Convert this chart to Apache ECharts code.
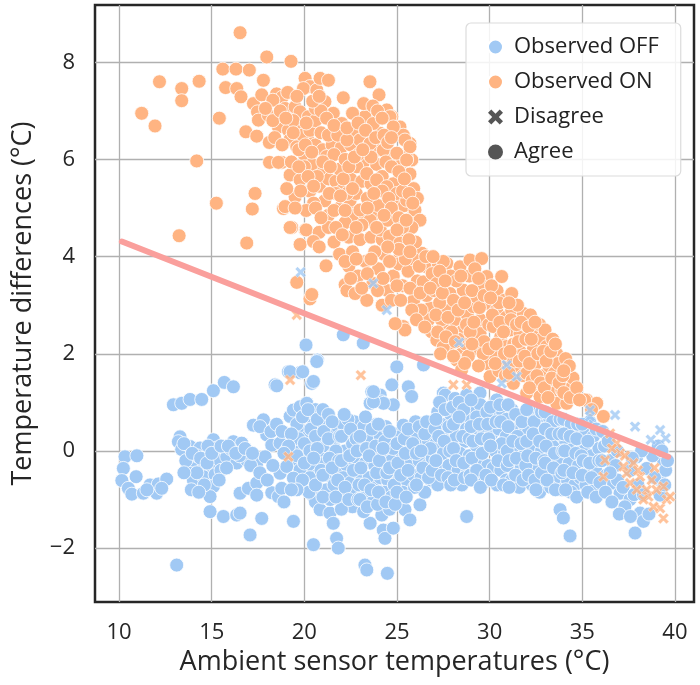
<!DOCTYPE html>
<html>
<head>
<meta charset="utf-8">
<script src="https://cdn.jsdelivr.net/npm/echarts@6/dist/echarts.min.js"></script>
<style>
html,body{margin:0;padding:0;background:#fff;}
#chart{width:700px;height:685px;}
</style>
</head>
<body>
<div id="chart"></div>
<script>
// ---------- data ----------
const xTicks = [10, 15, 20, 25, 30, 35, 40];
const yTicks = [-2, 0, 2, 4, 6, 8];

// Observed OFF, model agrees (blue circles)
const offAgree = [
[10.32,-0.12],[10.96,-0.1],[10.23,-0.36],[10.15,-0.61],[10.92,-0.53],[10.5,-0.77],[10.69,-0.89],[11.31,-0.87],[11.67,-0.7],[12.03,-0.87],[12.12,-0.68],[12.57,-0.58],[12.3,-0.77],[11.5,-0.8],
[12.93,0.95],[13.38,0.98],[13.83,1.06],[14.46,1.06],[15.09,1.24],[15.68,1.41],[16.17,1.32],
[13.29,0.29],[13.2,0.19],[13.38,0.03],[13.83,0.09],[14.37,0.06],[15.09,0.23],[15.27,0.06],[14.64,-0.15],[15.27,-0.19],[13.83,-0.39],[14.37,-0.32],[14.91,-0.39],[14.01,-0.6],[14.55,-0.53],[15.18,-0.49],[15.09,-0.73],[14.91,-0.94],[14.01,-0.19],[14.2,-0.1],[13.6,-0.2],[14.8,0.1],[15.5,-0.4],
[14.91,-1.25],[15.63,-1.35],[16.35,-1.32],[16.53,-1.28],[17.07,-1.73],[17.7,-1.39],[19.41,-1.45],[13.11,-2.35],
[16.17,0.19],[16.17,0.01],[16.62,0.16],[15.81,-0.12],[16.35,-0.25],[16.89,-0.19],[17.43,-0.25],[16.5,-0.1],[17.1,-0.3],[16.0,0.05],
[16.53,-0.87],[16.98,-0.77],[17.43,-0.66],[17.43,-0.91],[18.24,-0.86],[18.6,-0.94],[18.78,-0.77],
[17.25,0.53],[17.79,0.64],[17.97,0.33],[18.24,0.12],[17.88,-0.12],[17.6,0.5],
[18.42,1.36],[19.14,1.63],[19.77,1.61],[20.4,1.39],[18.51,1.34],
[19.23,0.71],[19.41,0.84],[19.77,0.91],[20.13,0.98],[19.95,0.4],
[18.69,0.16],[19.05,0.02],[19.41,-0.19],[18.69,-0.46],[19.05,-0.32],[19.77,-0.39],[20.13,-0.12],[19.77,0.02],
[19.41,-0.56],[20.13,-0.73],[20.49,-0.94],[20.49,-1.93],[20.09,2.18],[20.7,1.87],[19.23,1.63],[19.91,1.63],[20.67,1.84],[20.49,1.43],
[20.3,0.7],[20.6,0.85],[20.2,0.3],[20.5,0.1],[20.8,0.45],[20.4,-0.3],[20.7,-0.5],[20.9,-0.15],[20.3,-0.55],[20.9,-0.8],[20.6,-1.05],[20.85,-1.21],[20.5,0.55],[20.95,0.2],
[21.1,0.65],[21.4,0.4],[21.2,0.1],[21.6,0.2],[21.1,-0.25],[21.5,-0.1],[21.3,-0.5],[21.7,-0.4],[21.2,-0.8],[21.6,-0.7],[21.38,-1.28],[21.56,-1.49],[21.9,-1.0],[21.74,-1.8],[21.83,-2.0],[21.8,0.5],[21.4,-1.0],
[22.1,0.55],[22.4,0.3],[22.2,0.0],[22.6,0.15],[22.3,-0.3],[22.7,-0.2],[22.1,-0.55],[22.5,-0.65],[22.9,-0.45],[22.3,-0.9],[22.8,-0.85],[22.6,-1.15],[22.9,0.45],[22.0,-1.2],[22.7,0.6],
[23.2,0.5],[23.5,0.3],[23.1,0.05],[23.6,0.0],[23.3,-0.25],[23.8,-0.3],[23.1,-0.6],[23.5,-0.55],[23.9,-0.75],[23.3,-0.9],[23.7,-1.05],[23.55,-1.49],[23.27,-2.35],[23.37,-2.45],[23.9,0.55],[23.2,-1.25],
[24.1,0.3],[24.4,0.5],[24.2,0.0],[24.6,0.15],[24.3,-0.3],[24.7,-0.2],[24.1,-0.55],[24.5,-0.6],[24.9,-0.45],[24.3,-0.85],[24.7,-0.95],[24.18,-1.32],[24.26,-1.63],[24.35,-1.8],[24.8,-1.59],[24.48,-2.52],[24.6,-1.2],[24.9,0.35],
[25.16,0.29],[25.34,0.53],[25.2,0.0],[25.6,0.15],[25.3,-0.3],[25.7,-0.25],[25.1,-0.6],[25.5,-0.6],[25.9,-0.5],[25.3,-0.85],[25.43,-1.21],[25.7,-1.42],[25.8,0.35],[25.9,-0.05],
[26.1,0.3],[26.4,0.1],[26.2,-0.2],[26.6,-0.3],[26.3,-0.55],[26.8,-0.6],[26.24,-1.11],[26.96,0.47],[26.7,0.2],[26.9,-0.15],[26.5,-0.85],[26.0,0.6],
[23.64,1.22],[24.09,1.15],[23.55,0.98],[24.18,1.01],[24.72,1.36],[24.8,0.95],[25.61,1.32],[25.79,1.12],[26.43,1.77],[24.99,1.73],[22.1,2.39],[23.18,2.22],[24.27,0.98],[23.73,1.01],[23.73,1.22],
[27.5,1.19],[27.6,1.15],[27.68,0.43],[27.2,0.8],[27.4,0.55],[27.1,0.15],[27.5,-0.05],[27.3,-0.35],[27.8,-0.3],[27.6,-0.6],[27.9,0.2],[27.9,0.75],[27.2,-0.7],
[28.13,1.08],[28.76,1.15],[28.22,0.81],[28.5,0.55],[28.2,0.3],[28.7,0.2],[28.4,-0.05],[28.9,-0.1],[28.3,-0.4],[28.8,-0.45],[28.5,-0.7],[28.76,-1.35],[28.9,0.7],
[29.48,1.19],[29.12,0.88],[29.6,0.75],[29.2,0.45],[29.7,0.4],[29.3,0.1],[29.8,0.05],[29.4,-0.25],[29.9,-0.3],[29.2,-0.55],[29.7,-0.65],[29.5,0.95],
[30.38,1.05],[30.2,0.7],[30.7,0.8],[30.1,0.35],[30.5,0.45],[30.9,0.3],[30.3,0.0],[30.8,-0.05],[30.2,-0.35],[30.6,-0.4],[30.4,-0.7],[30.9,-0.6],
[31.2,0.85],[31.6,0.7],[31.3,0.45],[31.8,0.35],[31.1,0.1],[31.5,0.05],[31.9,-0.05],[31.3,-0.3],[31.7,-0.35],[31.2,-0.6],[31.6,-0.75],[31.9,0.6],
[32.2,0.8],[32.6,0.65],[32.1,0.4],[32.5,0.3],[32.9,0.45],[32.3,0.05],[32.8,0.0],[32.2,-0.3],[32.6,-0.35],[32.9,-0.6],[32.3,-0.7],[32.7,-0.85],
[33.2,0.7],[33.6,0.5],[33.1,0.3],[33.5,0.15],[33.9,0.3],[33.3,-0.1],[33.7,-0.15],[33.2,-0.45],[33.6,-0.55],[33.9,-0.8],[33.3,-0.75],[33.8,-1.21],[33.98,-1.38],[34.34,-1.75],
[34.2,0.6],[34.6,0.45],[34.1,0.2],[34.5,0.05],[34.9,0.2],[34.3,-0.25],[34.8,-0.3],[34.2,-0.6],[34.6,-0.7],[34.9,-0.55],[34.4,-0.85],
[35.2,0.4],[35.6,0.3],[35.1,0.0],[35.5,-0.1],[35.9,0.05],[35.3,-0.4],[35.8,-0.45],[35.2,-0.7],[35.7,-0.75],[35.4,0.6],
[36.2,0.1],[36.5,-0.2],[36.3,-0.5],[36.68,-0.66],[37.04,-0.87],[36.8,-0.3],[36.9,0.0],
[37.58,-1.0],[37.94,-0.12],[38.48,-0.36],[38.12,-1.28],[37.85,-1.69],[38.3,-1.45],[39.2,-0.91],[39.38,-0.19],[39.2,-0.6],[37.6,-0.4],[38.8,-0.1],[39.1,0.1],[38.0,-0.7],[39.5,-0.4],
[19.6,0.55],[19.9,0.7],[20.2,0.85],[19.7,0.25],[20.0,0.15],[20.35,0.45],[20.7,0.65],[20.6,0.3],[19.6,-0.1],[20.0,-0.25],[20.3,0.0],[20.7,0.05],[20.9,-0.4],[20.5,-0.15],[19.9,-0.6],[20.25,-0.85],[20.6,-0.7],[19.6,-0.8],
[21.0,0.85],[21.3,0.75],[21.05,0.4],[21.5,0.6],[21.7,0.0],[21.35,-0.15],[21.0,-0.5],[21.85,-0.2],[21.5,-0.35],[21.8,-0.6],[21.0,-0.95],[21.7,-0.95],[21.3,0.25],[21.9,0.3],
[22.0,0.3],[22.35,0.65],[22.5,0.45],[22.8,0.25],[22.0,-0.2],[22.45,-0.1],[22.85,0.0],[22.2,-0.75],[22.65,-0.4],[22.95,-0.7],[22.4,-1.0],[22.9,-1.0],[22.15,0.75],
[23.0,0.3],[23.35,0.05],[23.65,0.45],[23.85,0.1],[23.05,-0.35],[23.5,-0.1],[23.9,-0.45],[23.25,-0.7],[23.6,-0.8],[23.0,-1.0],[23.4,-1.15],[23.95,-1.1],[23.3,0.7],
[24.0,0.55],[24.35,0.2],[24.6,0.4],[24.8,0.05],[24.05,-0.2],[24.45,-0.45],[24.85,-0.7],[24.0,-0.85],[24.6,-0.35],[24.4,-1.05],[24.9,-1.1],[24.25,0.05],
[25.0,0.15],[25.4,0.25],[25.6,0.45],[25.05,-0.25],[25.45,-0.05],[25.85,0.15],[25.2,-0.5],[25.6,-0.4],[25.95,-0.75],[25.0,-0.85],[25.5,-0.95],
[26.2,0.5],[26.5,0.35],[26.8,0.05],[26.05,-0.05],[26.4,-0.35],[26.05,-0.7],[26.7,-0.55],[26.9,-0.4],[26.6,0.6],[26.3,0.0],
[27.05,0.45],[27.3,1.0],[27.6,0.85],[27.8,0.5],[27.25,0.3],[27.55,0.2],[27.85,0.0],[27.1,-0.2],[27.4,-0.5],[27.75,-0.55],[27.1,0.65],[27.9,-0.7],
[28.0,0.9],[28.35,1.0],[28.6,0.85],[28.05,0.55],[28.35,0.7],[28.75,0.45],[28.05,0.05],[28.55,0.3],[28.9,0.25],[28.2,-0.2],[28.6,-0.25],[28.1,-0.6],[28.65,-0.55],[28.95,-0.5],
[29.0,1.05],[29.3,0.7],[29.85,0.8],[29.0,0.5],[29.45,0.55],[29.9,0.55],[29.1,0.2],[29.55,0.25],[29.95,0.25],[29.05,-0.15],[29.6,-0.05],[29.3,-0.4],[29.8,-0.5],[29.0,-0.6],[29.5,-0.75],
[30.05,0.9],[30.55,0.95],[30.9,0.65],[30.35,0.6],[30.65,0.15],[30.05,0.1],[30.45,-0.2],[30.95,0.0],[30.1,-0.6],[30.75,-0.7],[30.95,-0.3],[30.6,0.6],
[31.0,0.95],[31.4,0.75],[31.0,0.5],[31.5,0.3],[31.75,0.6],[31.25,0.2],[31.7,0.15],[31.05,-0.2],[31.45,-0.15],[31.95,-0.3],[31.4,-0.5],[31.05,-0.75],[31.8,-0.6],
[32.0,0.85],[32.4,0.6],[32.8,0.8],[32.0,0.2],[32.35,0.35],[32.7,0.2],[32.05,-0.1],[32.5,-0.15],[32.95,-0.2],[32.1,-0.5],[32.45,-0.6],[32.8,-0.45],[32.5,-0.8],
[33.0,0.8],[33.4,0.6],[33.8,0.65],[33.0,0.45],[33.35,0.35],[33.75,0.35],[33.05,0.1],[33.5,-0.05],[33.95,0.0],[33.0,-0.25],[33.45,-0.35],[33.9,-0.45],[33.1,-0.6],[33.55,-0.8],
[34.0,0.65],[34.4,0.55],[34.75,0.55],[34.0,0.35],[34.35,0.3],[34.7,0.25],[34.05,0.0],[34.65,-0.05],[34.0,-0.4],[34.5,-0.45],[34.95,-0.1],[34.7,-0.95],[34.1,-0.8],
[35.0,0.55],[35.3,0.2],[35.75,0.45],[35.05,-0.2],[35.4,-0.25],[35.9,-0.2],[35.0,-0.5],[35.5,-0.55],[35.95,-0.65],[35.3,-0.85],[35.75,-0.95],
[36.1,0.4],[36.4,0.2],[36.05,-0.2],[36.25,-0.85],[36.6,-1.05],[36.9,-0.6],[37.2,-0.75],[37.3,-1.15],[37.0,-1.3],[37.6,-1.35],[36.5,-0.45],
[37.8,-0.9],[38.3,-0.9],[38.6,-1.3],[38.9,-0.55],[39.3,0.0],[39.6,-0.2],[39.45,-0.7],[38.2,0.0],[37.7,-0.15],
[13.5,0.15],[13.95,-0.05],[14.4,-0.15],[14.75,-0.25],[15.0,-0.05],[15.5,0.1],[15.9,0.1],[14.2,-0.45],[14.6,-0.7],[15.4,-0.6],[13.9,-0.8],[14.3,-0.85],[13.5,-0.45],[16.3,-0.05],[16.8,0.05],[17.2,-0.05],[15.8,-0.35],[17.6,-0.45],[18.0,-0.6],[18.3,-0.3],[18.2,0.4],[18.5,0.55],[18.8,0.4],[19.3,0.35],[19.15,0.1],[18.9,-0.05],[19.3,-0.8],[18.9,-1.05]
];

// Observed ON, model agrees (orange circles)
const onAgree = [
[11.22,6.95],[11.94,6.69],[12.18,7.6],[13.38,7.46],[13.38,7.21],[14.32,7.61],[14.19,5.97],[13.24,4.43],[15.25,5.1],[15.41,6.85],[16.53,8.61],[15.6,7.86],[16.31,7.86],[17.03,7.84],[15.75,7.48],[16.35,7.46],[16.58,7.29],[17.79,7.63],[17.97,8.11],[19.28,8.02],[16.84,6.57],[17.43,6.48],[17.34,5.3],[17.19,4.98],[16.89,4.28],[18.12,5.94],[18.78,5.94],[18.87,4.99],[19.32,4.6],[18.11,6.35],[19.77,4.25],[20.05,4.55],[21.17,3.81],[19.59,3.47],[20.3,3.13],[20.4,3.22],[22.2,3.42],[22.3,3.3],
[17.25,7.15],[17.47,6.98],[17.52,6.81],[18.06,6.91],[17.7,7.33],[18.5,7.35],[18.8,7.28],[19.1,7.38],[18.3,7.22],[18.96,7.05],[19.5,7.08],[19.77,6.98],[20.04,7.67],[20.3,7.5],[19.95,7.46],[20.67,7.43],[20.85,7.67],[21.3,7.63],[22.1,7.27],[23.54,7.6],[24.03,7.33],[24.45,7.02],[24.72,6.88],[25.16,6.67],[25.34,6.5],[25.7,6.33],[25.8,5.99],[23.37,6.88],[23.73,6.78],[24.09,6.54],[21.11,7.19],[21.56,6.95],[22.02,6.74],[22.64,6.6],[20.22,6.88],[19.77,6.67],[18.6,6.67],[19.14,6.6],[19.23,6.41],[19.59,6.26],
[20.2,6.4],[20.6,6.3],[21.0,6.2],[21.5,6.3],[22.0,6.25],[22.5,6.3],[23.0,6.4],[23.5,6.3],[24.0,6.2],[24.6,6.15],[21.2,6.06],[18.6,5.94],[20.0,6.1],
[22.6,5.93],[23.2,5.95],[23.9,5.9],[25.0,6.0],[25.3,5.95],[25.5,6.05],
[19.23,5.68],[19.77,5.58],[19.5,5.23],[20.3,5.35],[20.8,5.45],[21.3,5.6],[21.7,5.55],[22.0,5.35],[20.85,5.8],[22.5,5.6],[23.1,5.55],[23.6,5.5],[24.2,5.65],[24.8,5.5],
[21.1,5.15],[21.3,4.85],[21.9,5.0],[22.4,5.05],[22.7,4.85],[23.2,4.9],[23.7,4.85],[24.4,5.05],[25.0,5.1],[25.4,5.05],[25.9,4.85],[18.96,5.03],
[19.23,4.6],[20.1,4.55],[20.8,4.5],[21.3,4.6],[22.4,4.4],[23.0,4.35],[23.6,4.4],[24.2,4.35],[24.8,4.3],[25.4,4.4],[20.49,4.31],
[23.27,6.88],[23.72,6.74],[24.62,6.88],[24.8,6.67],[25.43,6.4],[25.7,6.26],[23.55,6.33],[24.26,6.19],[24.99,6.13],[25.52,5.99],[22.83,5.85],[23.37,5.71],[23.9,5.58],[24.45,5.44],[24.99,5.3],[25.52,5.16],[25.97,4.96],[26.24,4.75],[22.47,5.16],[23.0,4.96],[23.55,4.75],[24.1,4.55],[24.6,4.42],[25.16,4.28],[25.5,4.07],[25.16,4.0],[26.34,4.07],[26.97,3.86],[27.69,3.86],[28.4,3.79],[28.94,3.93],[29.57,3.96],
[19.4,6.8],[19.9,6.5],[20.3,6.6],[20.6,6.8],[20.9,6.55],[21.3,6.5],[20.6,7.05],[20.9,7.0],[19.6,7.3],[21.8,6.5],[22.3,6.4],[21.6,6.1],[22.9,6.1],[20.4,5.9],[20.7,5.65],[21.9,5.8],[22.2,6.0],[20.0,5.85],[19.8,5.35],[20.5,5.1],[20.1,4.95],[22.8,5.3],[23.4,5.2],[24.0,5.05],[24.5,4.75],[23.9,4.6],[22.2,4.7],[21.6,4.3],[20.8,4.2],[25.9,5.4],[25.7,5.7],[26.1,5.2],[25.8,4.6],[26.0,4.3],
[21.9,4.05],[22.4,3.8],[22.74,3.24],[23.37,3.1],[22.9,3.6],[23.3,3.9],[23.7,3.45],[24.0,3.75],[24.3,4.05],[24.5,3.3],[24.8,3.6],[25.1,3.85],[25.3,3.4],[25.6,3.7],[25.9,3.95],[26.1,3.5],[25.9,3.1],[25.34,2.56],[25.43,2.49],[24.9,2.62],[24.2,3.0],[23.8,4.1],[22.6,4.1],
[26.42,3.48],[26.78,2.94],[26.87,2.45],[26.6,3.2],[26.5,3.8],[26.9,3.65],[26.7,2.7],[27.0,3.3],[26.3,2.9],
[27.15,3.45],[27.5,3.9],[27.69,2.9],[27.59,2.56],[27.86,3.24],[27.3,3.05],[27.4,2.7],[27.77,2.1],[27.9,3.6],[27.15,2.28],[27.5,2.14],[27.2,2.45],
[28.4,3.04],[28.58,3.31],[28.58,2.49],[28.49,2.0],[28.22,1.87],[28.49,1.67],[28.2,3.5],[28.1,2.7],[28.8,2.8],[28.7,2.2],[28.9,3.6],[28.3,2.3],
[29.12,2.97],[29.3,3.17],[29.48,2.42],[29.3,2.1],[29.84,3.59],[29.84,3.04],[29.84,1.8],[29.5,2.7],[29.6,3.4],[29.2,3.75],[29.7,2.25],[29.95,2.6],
[30.02,1.53],[30.2,2.56],[30.2,2.0],[30.38,2.9],[30.65,3.59],[30.4,3.3],[30.6,2.35],[30.7,1.8],[30.92,2.15],[30.9,2.75],[30.5,1.65],[30.8,3.1],
[31.19,3.24],[31.19,2.9],[31.1,2.49],[31.28,1.39],[31.64,2.42],[31.64,2.05],[31.82,2.83],[31.4,1.75],[31.5,3.0],[31.3,2.2],[31.8,1.55],[31.9,2.6],
[32.0,1.6],[32.0,1.19],[32.36,2.49],[32.36,2.1],[32.54,1.32],[32.72,1.12],[32.2,2.8],[32.5,1.8],[32.8,2.3],[32.9,1.55],[32.3,1.45],[32.7,2.6],
[33.08,2.15],[33.26,1.32],[33.44,1.19],[32.99,2.49],[33.62,2.0],[33.62,0.98],[33.8,1.53],[33.2,1.75],[33.5,1.6],[33.4,2.3],[33.9,1.25],[33.7,1.8],
[34.25,1.6],[34.16,0.98],[34.4,1.3],[34.1,1.9],[34.6,1.1],[34.5,1.5],
[35.24,1.05],[35.78,0.98],[35.13,1.05],[36.14,0.71],[35.5,0.85],
[17.9,7.05],[18.3,6.8],[18.7,7.0],[18.4,6.45],[18.8,6.3],[19.0,6.85],[19.4,6.55],[19.7,6.2],[19.3,5.95],[19.05,5.4],[19.5,5.0],[19.7,5.85],[20.05,6.3],[20.4,6.15],[20.1,6.75],[20.45,7.2],[20.8,7.3],[21.2,6.85],[21.6,6.7],[21.0,5.95],[21.4,5.85],[21.7,5.3],[21.35,5.3],[20.6,5.0],[20.9,4.8],[21.6,4.95],[21.7,4.6],[22.05,4.45],[22.3,5.3],[22.6,5.4],[22.1,5.6],[22.4,5.85],[22.7,6.05],[22.3,6.65],[22.6,6.95],[22.9,6.75],[23.2,7.15],[23.7,7.1],[23.95,7.0],[23.3,6.6],[23.6,6.05],[23.15,6.2],[23.85,6.45],[24.3,6.5],[24.5,6.35],[24.2,6.85],[24.7,6.45],[24.4,5.95],[24.7,5.85],[24.2,5.35],[24.55,5.2],[24.7,5.0],[23.4,5.0],[23.1,4.65],[23.75,5.3],[24.3,4.85],[25.1,4.8],[25.3,4.6],[25.65,4.35],[25.0,4.55],[25.3,5.35],[25.65,5.3],[25.1,5.75],[25.4,5.6],[25.85,5.1],[25.5,4.75],[22.8,4.6],[22.2,4.95],[21.95,5.25],[20.2,5.65],[20.5,5.45],
[22.2,3.9],[22.5,3.55],[22.8,3.95],[23.1,3.35],[23.4,3.65],[23.6,3.95],[23.95,3.3],[24.25,3.55],[24.6,3.9],[24.7,3.1],[25.0,3.4],[25.2,3.1],[25.45,3.95],[25.7,3.35],[25.8,2.9],[26.05,2.7],[26.2,3.8],[26.25,3.25],[26.5,2.55],[26.55,4.0],[26.8,3.35],[26.95,4.0],[25.1,4.15],[24.5,4.2],[25.7,4.1],
[27.1,2.8],[27.3,3.7],[27.45,3.25],[27.6,3.5],[27.75,2.75],[27.95,2.45],[27.35,2.0],[27.65,2.35],[28.05,3.1],[28.15,2.25],[28.3,2.9],[28.45,3.6],[28.65,3.05],[28.75,2.6],[28.95,2.45],[28.85,1.95],[28.65,1.8],[28.05,1.95],[29.05,3.3],[29.15,2.65],[29.4,3.55],[29.45,2.95],[29.7,3.2],[29.65,2.0],[29.4,1.75],[29.95,2.1],[29.05,2.2],[30.1,3.4],[30.15,2.8],[30.35,2.2],[30.5,3.05],[30.55,2.65],[30.8,2.0],[30.75,2.45],[30.3,1.8],[30.85,1.55],[30.05,3.15],[31.05,3.05],[31.15,2.7],[31.3,1.85],[31.45,2.6],[31.55,2.25],[31.7,2.65],[31.1,2.05],[31.05,1.6],[31.6,1.85],[31.95,2.3],[31.9,1.95],[32.1,2.55],[32.15,1.8],[32.25,2.3],[32.45,2.65],[32.6,2.0],[32.55,1.55],[32.9,2.05],[32.75,1.4],[32.15,1.3],[32.95,1.3],[33.05,1.85],[33.3,2.05],[33.35,1.5],[33.55,2.2],[33.75,1.4],[33.95,1.55],[33.15,1.1],[34.0,1.2],[34.3,1.75],[34.35,1.1],[34.7,1.3],[34.85,1.05],[34.0,1.65]
];

// Observed OFF, model disagrees (blue crosses)
const offDisagree = [
[19.8,3.68],[23.72,3.45],[24.45,2.9],[28.35,2.23],[30.92,1.77],[31.46,1.53],[30.65,1.39],[35.42,0.71],[35.42,0.84],[36.77,0.74],[37.85,0.5],[38.7,0.23],[39.5,0.26],[39.2,0.43]
];

// Observed ON, model disagrees (orange crosses)
const onDisagree = [
[19.14,-0.12],[19.23,1.46],[19.59,2.8],[23.05,1.56],[28.04,1.36],[28.76,1.36],[36.14,-0.53],[37.04,-0.05],[37.4,-0.46],[37.58,-0.66],[37.94,-0.8],[38.48,-0.8],[38.57,-0.94],[39.2,-1.18],[39.38,-1.39],[39.56,-1.0],[38.84,-1.15],[38.12,-0.53],[36.86,0.16],[36.5,0.36],[36.23,-0.19],[37.76,-0.25],[37.22,-0.32],[38.3,-1.0],[38.75,-0.6],[39.74,-0.94],[39.38,-0.73],[36.6,0.05],[37.3,-0.1],[38.0,-0.4],[38.9,-0.35],[39.0,-0.8]
];

// threshold / fit line end points
const fitX = [10.15, 39.64];
const fitY = [4.31, -0.12];

// ---------- chart ----------
const BLUE = '#a1c9f4', ORANGE = '#ffb482', LINE = '#fa9f9c', DARK = '#2b2b2b';
const XPATH = 'path://M0,2.2 L2.2,0 L5,2.8 L7.8,0 L10,2.2 L7.2,5 L10,7.8 L7.8,10 L5,7.2 L2.2,10 L0,7.8 L2.8,5 Z';
const FONT = '"Open Sans", "Noto Sans", sans-serif';

const chart = echarts.init(document.getElementById('chart'), null, {renderer: 'canvas'});
const minus = v => (v < 0 ? '\u2212' + Math.abs(v) : String(v));

chart.setOption({
  animation: false,
  backgroundColor: '#fff',
  textStyle: {fontFamily: FONT},
  grid: {left: 95, top: 5, width: 599, height: 597, show: true,
         borderColor: '#262626', borderWidth: 2.5, backgroundColor: 'transparent'},
  xAxis: {
    type: 'value', min: 8.7, max: 41.03,
    name: 'Ambient sensor temperatures (\u00B0C)', nameLocation: 'middle', nameGap: 44,
    nameTextStyle: {fontSize: 27, color: '#262626', fontFamily: FONT},
    axisLine: {show: false},
    axisTick: {show: false, customValues: xTicks},
    axisLabel: {customValues: xTicks, fontSize: 22, color: '#262626', margin: 20, fontFamily: FONT},
    splitLine: {show: true, lineStyle: {color: '#b0b0b0', width: 1.3}}
  },
  yAxis: {
    type: 'value', min: -3.11, max: 9.18,
    name: 'Temperature differences (\u00B0C)', nameLocation: 'middle', nameGap: 58, nameRotate: 90,
    nameTextStyle: {fontSize: 27, color: '#262626', fontFamily: FONT},
    axisLine: {show: false},
    axisTick: {show: false, customValues: yTicks},
    axisLabel: {customValues: yTicks, fontSize: 22, color: '#262626', margin: 20, fontFamily: FONT, formatter: minus},
    splitLine: {show: true, lineStyle: {color: '#b0b0b0', width: 1.3}}
  },
  legend: {
    orient: 'vertical', left: 466, top: 23,
    padding: [13, 22, 13, 21], itemGap: 13, itemWidth: 15, itemHeight: 15,
    backgroundColor: 'rgba(255,255,255,0.85)', borderColor: '#dcdcdc', borderWidth: 1.2, borderRadius: 5,
    textStyle: {fontSize: 22, color: '#222', fontFamily: FONT, padding: [0, 0, 0, 6]},
    selectedMode: false,
    data: [
      {name: 'Observed OFF', icon: 'circle'},
      {name: 'Observed ON', icon: 'circle'},
      {name: 'Disagree', icon: XPATH},
      {name: 'Agree', icon: 'circle'}
    ]
  },
  series: [
    {name: 'Observed OFF', type: 'scatter', data: offAgree, symbol: 'circle', symbolSize: 14,
     itemStyle: {color: BLUE, borderColor: '#fff', borderWidth: 0.8, opacity: 1}, z: 2},
    {name: 'Observed ON', type: 'scatter', data: onAgree, symbol: 'circle', symbolSize: 14,
     itemStyle: {color: ORANGE, borderColor: '#fff', borderWidth: 0.8, opacity: 1}, z: 3},
    {name: 'offX', type: 'scatter', data: offDisagree, symbol: XPATH, symbolSize: 11,
     itemStyle: {color: BLUE, borderColor: '#fff', borderWidth: 0.5}, z: 4},
    {name: 'onX', type: 'scatter', data: onDisagree, symbol: XPATH, symbolSize: 11,
     itemStyle: {color: ORANGE, borderColor: '#fff', borderWidth: 0.5}, z: 4},
    {name: 'Disagree', type: 'scatter', data: [], symbol: XPATH, itemStyle: {color: DARK}},
    {name: 'Agree', type: 'scatter', data: [], symbol: 'circle', itemStyle: {color: DARK}},
    {name: 'fit', type: 'line', data: fitX.map((x, i) => [x, fitY[i]]), symbol: 'none',
     lineStyle: {color: LINE, width: 6, cap: 'round'}, z: 5, silent: true}
  ]
});
</script>
</body>
</html>
